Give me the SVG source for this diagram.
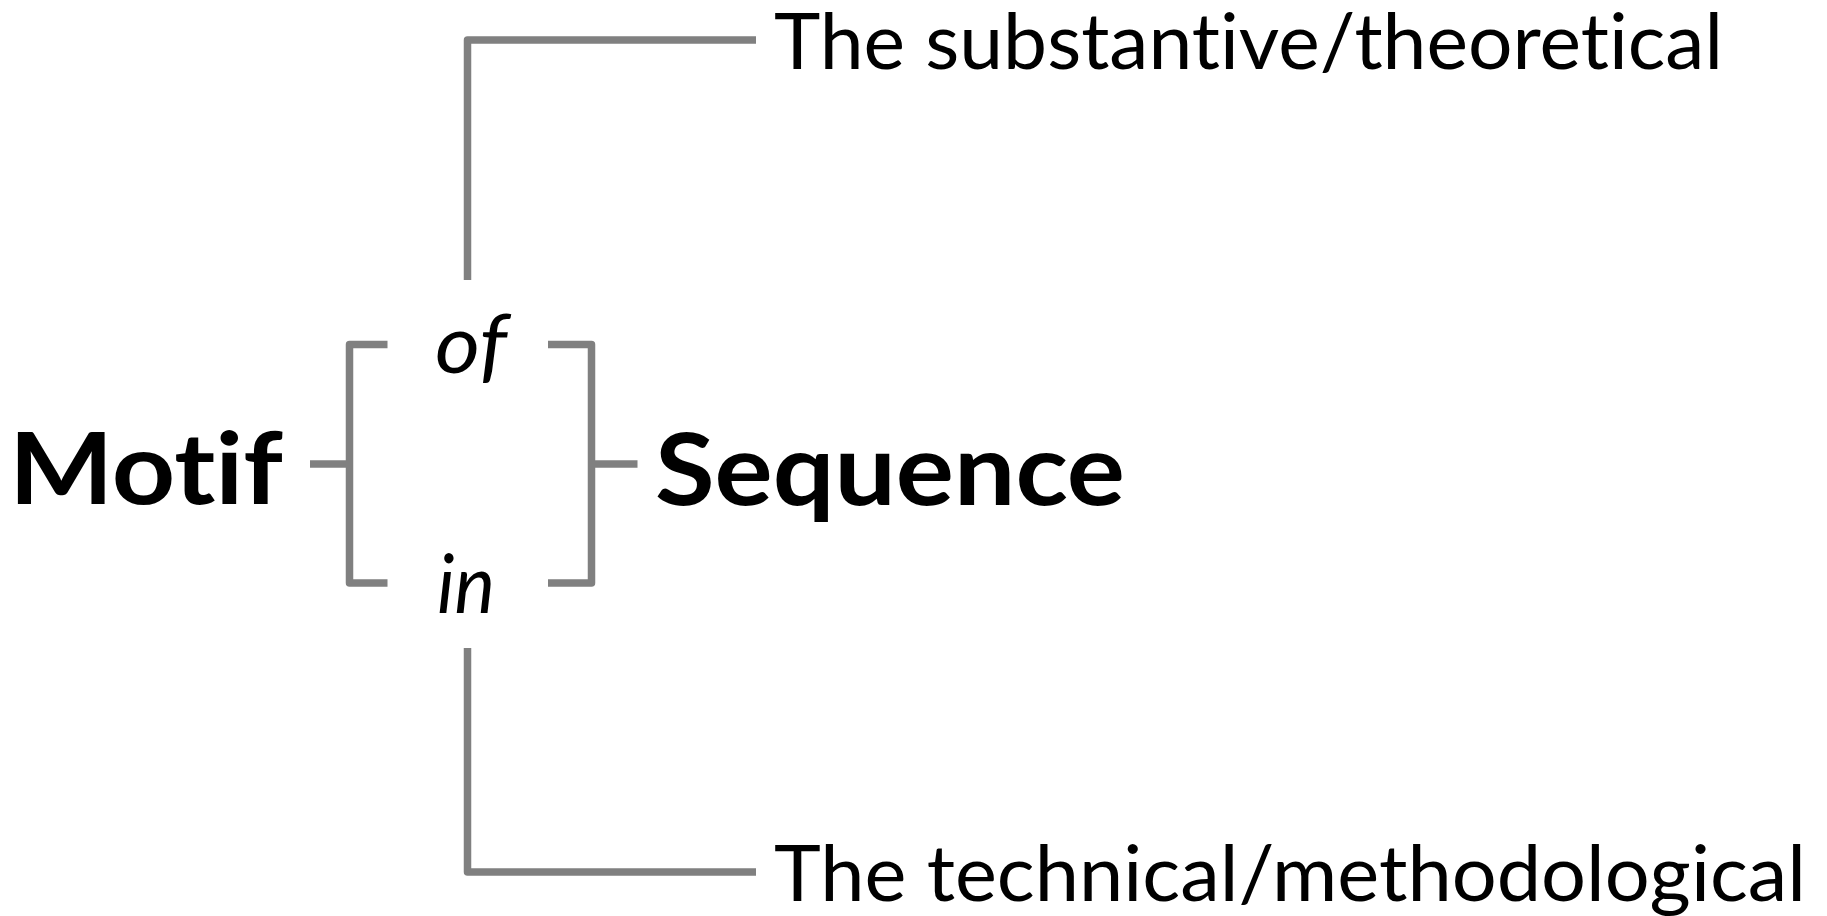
<svg xmlns="http://www.w3.org/2000/svg" width="1827" height="916" viewBox="0 0 1827 916">
  <style>
    text { font-variant-ligatures: none; font-feature-settings: "liga" 0, "clig" 0; }
    .link { fill: none; stroke: #808080; stroke-width: 7.5; stroke-linejoin: round; stroke-linecap: butt; }
    .big { font-family: Lato, "Open Sans", sans-serif; font-weight: bold; font-size: 100px; fill: #000; }
    .prep { font-family: Lato, "Open Sans", sans-serif; font-style: italic; font-size: 82px; fill: #000; }
    .label { font-family: Lato, "Open Sans", sans-serif; font-size: 78px; fill: #000; }
  </style>
  <rect width="1827" height="916" fill="#fff"/>

  <g id="connectors">
    <!-- brackets joining the two terms -->
    <path class="link" d="M387.5,344.5 H349.5 V583 H387.5"/>
    <path class="link" d="M310,464 H349.5"/>
    <path class="link" d="M548,344.5 H591.5 V583 H548"/>
    <path class="link" d="M591.5,464 H637.5"/>
    <!-- leads to the two readings -->
    <path class="link" d="M467.5,280 V40 H756"/>
    <path class="link" d="M467.5,648 V872 H756"/>
  </g>

  <g id="motif">
    <text class="big" x="9" y="504" textLength="274" lengthAdjust="spacingAndGlyphs">Motif</text>
  </g>
  <g id="sequence">
    <text class="big" x="655" y="505" textLength="470" lengthAdjust="spacingAndGlyphs">Sequence</text>
  </g>
  <g id="of">
    <text class="prep" x="435" y="373" textLength="72" lengthAdjust="spacingAndGlyphs">of</text>
  </g>
  <g id="in">
    <text class="prep" x="437" y="613" textLength="58" lengthAdjust="spacingAndGlyphs">in</text>
  </g>
  <g id="theoretical">
    <text class="label" x="774" y="69" textLength="949" lengthAdjust="spacingAndGlyphs">The substantive/theoretical</text>
  </g>
  <g id="methodological">
    <text class="label" x="774" y="901" textLength="1032" lengthAdjust="spacingAndGlyphs">The technical/methodological</text>
  </g>
</svg>
